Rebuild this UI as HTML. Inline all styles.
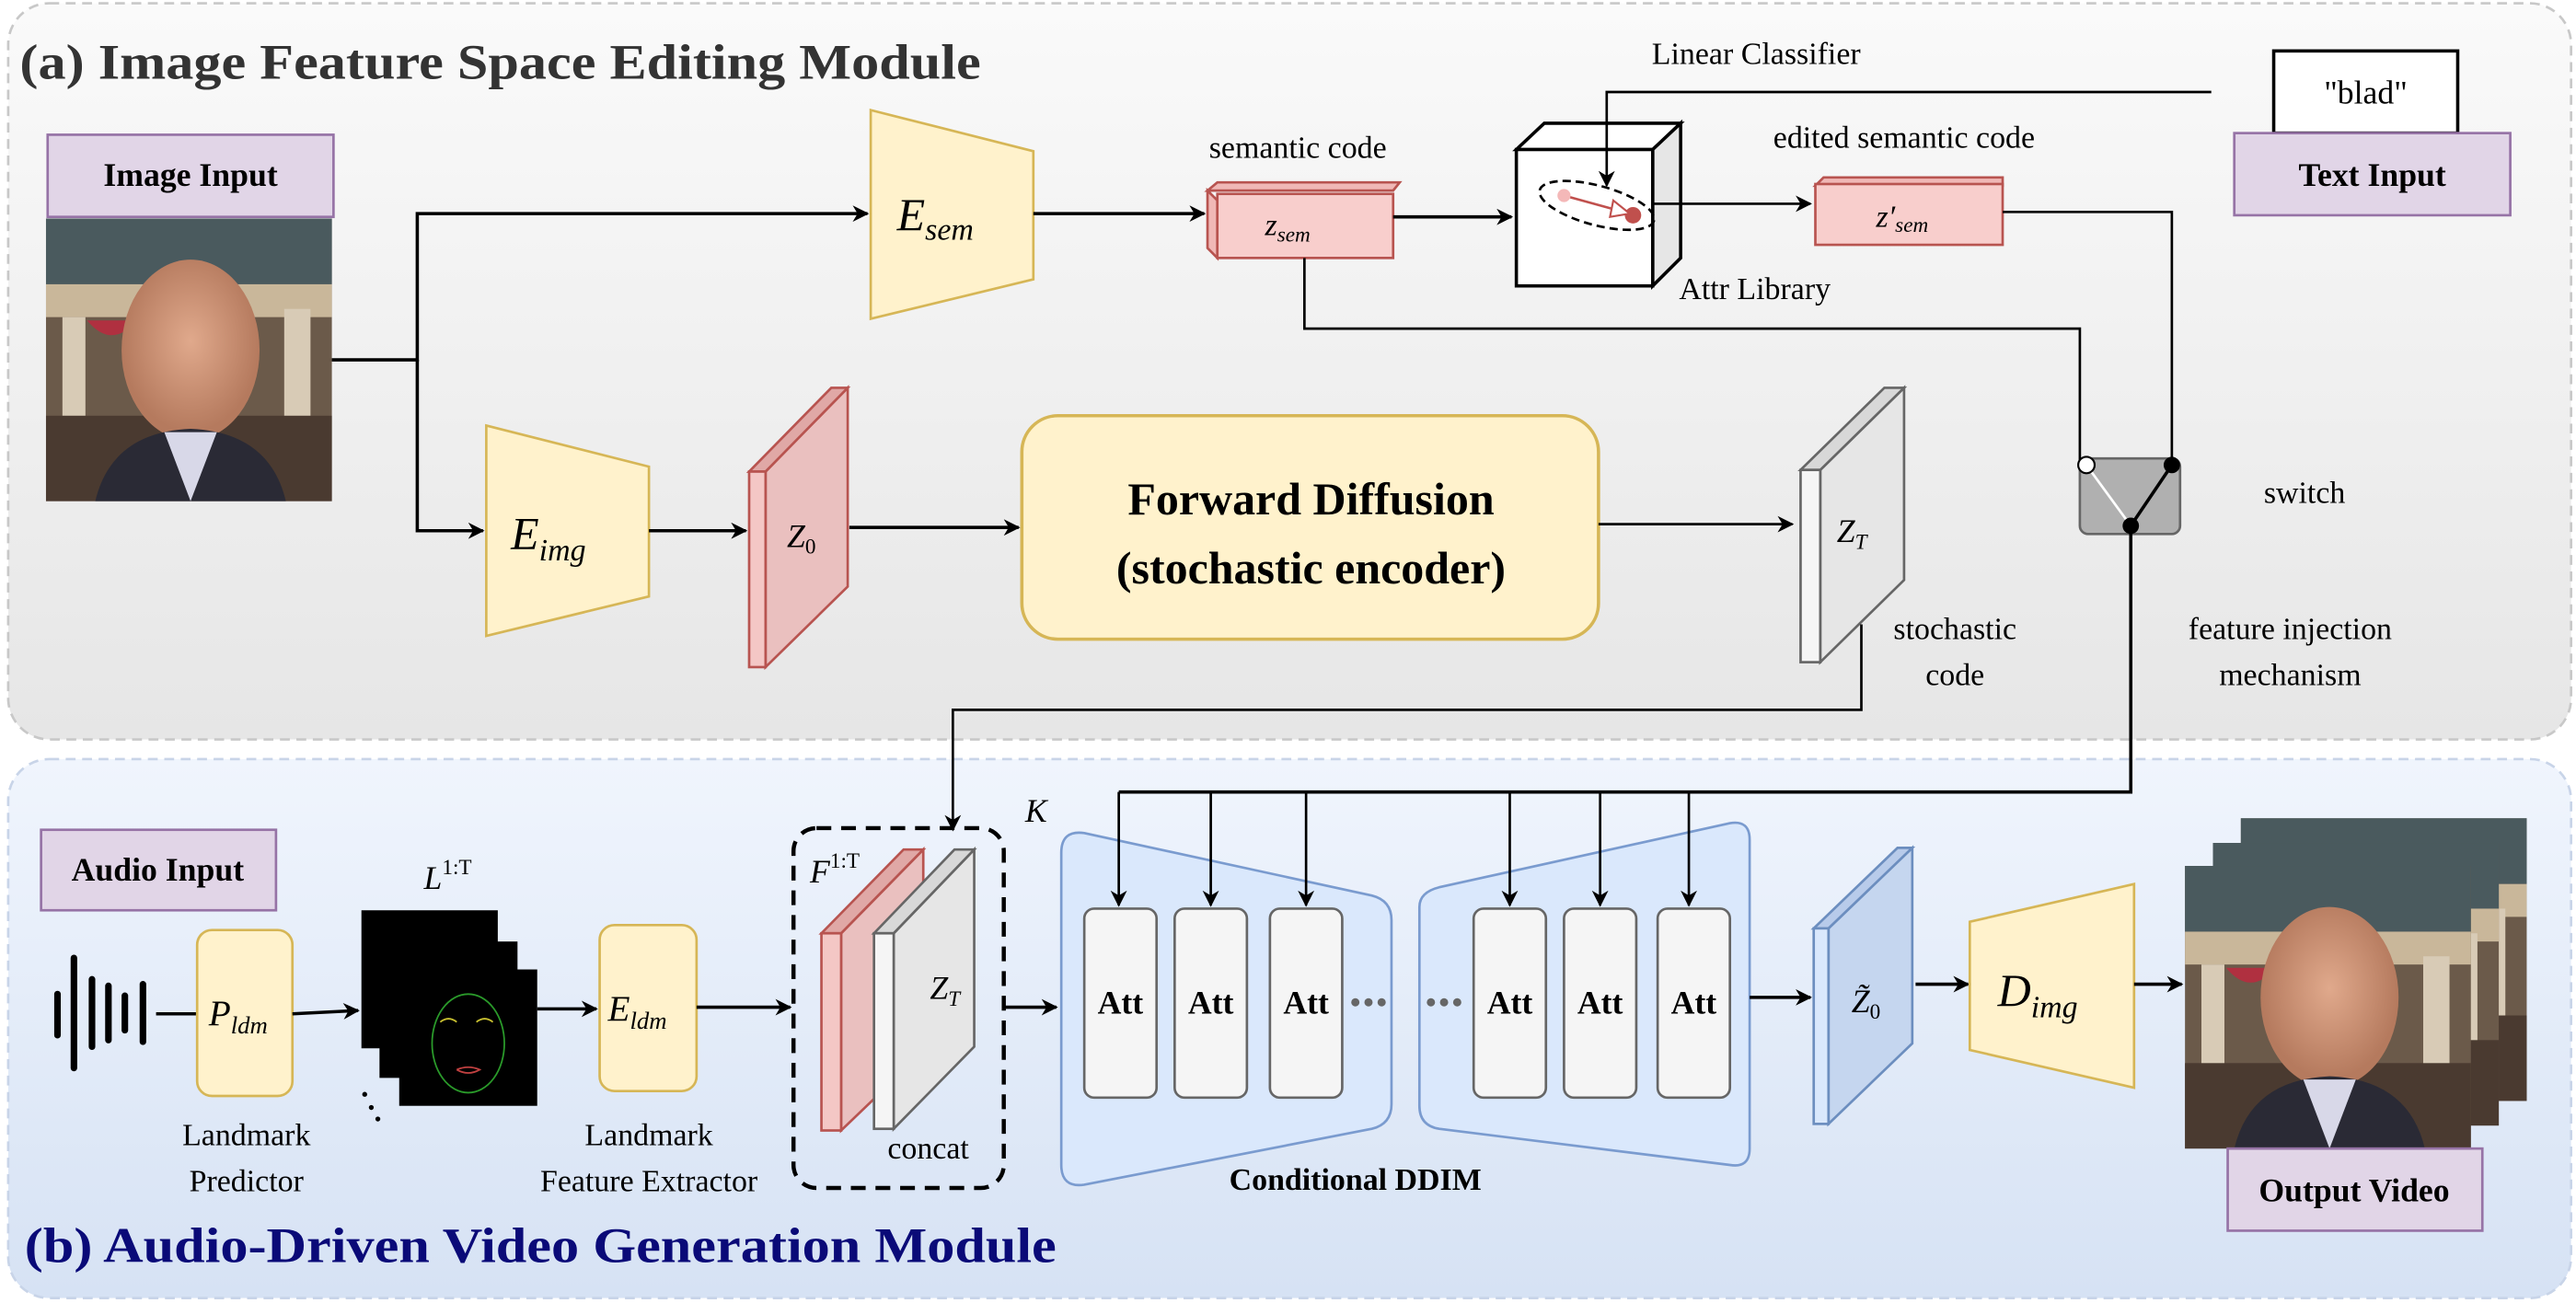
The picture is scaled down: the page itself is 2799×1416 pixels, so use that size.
<!DOCTYPE html>
<html><head><meta charset="utf-8"><style>
html,body{margin:0;padding:0;background:#fff}
svg{display:block}
text{font-family:"Liberation Serif","DejaVu Serif",serif}
</style></head><body>
<svg width="2799" height="1416" viewBox="0 0 1568 793" preserveAspectRatio="none" xmlns="http://www.w3.org/2000/svg">
<defs>
<linearGradient id="ga" x1="0" y1="0" x2="0" y2="1"><stop offset="0" stop-color="#fafafa"/><stop offset="1" stop-color="#e6e6e6"/></linearGradient>
<linearGradient id="gb" x1="0" y1="0" x2="0" y2="1"><stop offset="0" stop-color="#f0f5fd"/><stop offset="1" stop-color="#d6e2f4"/></linearGradient>
<marker id="ar" markerWidth="10" markerHeight="10" refX="9" refY="5" orient="auto" markerUnits="userSpaceOnUse"><path d="M0,0 L10,5 L0,10 L3,5 Z" fill="#000"/></marker>
<radialGradient id="face" cx="0.5" cy="0.45" r="0.5"><stop offset="0" stop-color="#e0a98c"/><stop offset="1" stop-color="#b57a5e"/></radialGradient>
<g id="photo">
<rect x="0" y="0" width="174" height="172" fill="#6b5a4a"/>
<rect x="0" y="0" width="174" height="40" fill="#4a5a5e"/>
<rect x="0" y="40" width="174" height="20" fill="#c9b79a"/>
<rect x="10" y="60" width="14" height="80" fill="#d8cbb6"/>
<rect x="145" y="55" width="16" height="85" fill="#d8cbb6"/>
<path d="M25,62 Q40,80 55,62 Z" fill="#b03040"/>
<rect x="0" y="120" width="174" height="52" fill="#4a3a30"/>
<ellipse cx="88" cy="80" rx="42" ry="55" fill="url(#face)"/>
<path d="M30,172 Q40,130 88,128 Q136,130 146,172 Z" fill="#2a2a35"/>
<path d="M72,130 L88,172 L104,130 Z" fill="#d8d8e8"/>
</g>
</defs>

<!-- panel a -->
<rect x="5" y="2" width="1560" height="448" rx="25" fill="url(#ga)" stroke="#c8c8c8" stroke-width="1.5" stroke-dasharray="6,4"/>
<!-- panel b -->
<rect x="5" y="462" width="1560" height="328" rx="25" fill="url(#gb)" stroke="#c8d4e8" stroke-width="1.5" stroke-dasharray="6,4"/>

<text x="12" y="48" font-size="30" font-weight="bold" fill="#333" textLength="585" lengthAdjust="spacingAndGlyphs">(a) Image Feature Space Editing Module</text>
<text x="15" y="768" font-size="30" font-weight="bold" fill="#0a0a78" textLength="628" lengthAdjust="spacingAndGlyphs">(b) Audio-Driven Video Generation Module</text>

<!-- Image input -->
<rect x="29" y="82" width="174" height="50" fill="#e1d5e7" stroke="#9673a6" stroke-width="1.5"/>
<text x="116" y="113" font-size="20" font-weight="bold" text-anchor="middle">Image Input</text>
<use href="#photo" x="28" y="133"/>

<!-- connectors top -->
<path d="M202,219 H254 V130 H528" fill="none" stroke="#000" stroke-width="2" marker-end="url(#ar)"/>
<path d="M254,219 V323 H294" fill="none" stroke="#000" stroke-width="2" marker-end="url(#ar)"/>

<!-- E_sem -->
<polygon points="530,67 629,92 629,170 530,194" fill="#fff2cc" stroke="#d6b656" stroke-width="1.5"/>
<text x="546" y="140" font-size="28" font-style="italic">E<tspan font-size="19" dy="6">sem</tspan></text>
<path d="M629,130 H733" stroke="#000" stroke-width="2" marker-end="url(#ar)"/>

<text x="790" y="96" font-size="19" text-anchor="middle">semantic code</text>
<!-- z_sem box -->
<polygon points="735,116 741,111 852,111 848,116" fill="#f0b8b6" stroke="#b85450" stroke-width="1.5"/>
<polygon points="735,116 741,122 741,157 735,151" fill="#f0b8b6" stroke="#b85450" stroke-width="1.5"/>
<rect x="741" y="118" width="107" height="39" fill="#f8cecc" stroke="#b85450" stroke-width="1.5"/>
<text x="770" y="143" font-size="19" font-style="italic">z<tspan font-size="13" dy="4">sem</tspan></text>
<path d="M848,132 H920" stroke="#000" stroke-width="2" marker-end="url(#ar)"/>

<!-- Attr cube -->
<polygon points="923,91 940,75 1023,75 1006,91" fill="#fff" stroke="#000" stroke-width="2"/>
<polygon points="1006,91 1023,75 1023,157 1006,174" fill="#e6e6e6" stroke="#000" stroke-width="2"/>
<rect x="923" y="91" width="83" height="83" fill="#fff" stroke="#000" stroke-width="2"/>
<ellipse cx="972" cy="125" rx="36" ry="12" transform="rotate(15 972 125)" fill="none" stroke="#000" stroke-width="1.5" stroke-dasharray="5,3"/>
<line x1="952" y1="119" x2="992" y2="130" stroke="#c0504d" stroke-width="1.5"/>
<circle cx="952" cy="119" r="4" fill="#f4b8b8"/>
<circle cx="994" cy="131" r="5" fill="#c0504d"/>
<polygon points="982,122 992,130 980,132" fill="#fff" stroke="#c0504d" stroke-width="1.2"/>
<text x="1022" y="182" font-size="19">Attr Library</text>
<text x="1069" y="39" font-size="19" text-anchor="middle">Linear Classifier</text>
<path d="M1346,56 H978 V113" fill="none" stroke="#000" stroke-width="1.5" marker-end="url(#ar)"/>
<path d="M1006,124 H1102" stroke="#000" stroke-width="1.5" marker-end="url(#ar)"/>

<text x="1159" y="90" font-size="19" text-anchor="middle">edited semantic code</text>
<polygon points="1105,113 1110,108 1219,108 1219,113" fill="#f0b8b6" stroke="#b85450" stroke-width="1.5"/>
<rect x="1105" y="112" width="114" height="37" fill="#f8cecc" stroke="#b85450" stroke-width="1.5"/>
<text x="1142" y="138" font-size="19" font-style="italic">z′<tspan font-size="13" dy="3">sem</tspan></text>
<path d="M1219,129 H1322 V282" fill="none" stroke="#000" stroke-width="1.5"/>
<path d="M794,157 V200 H1266 V282" fill="none" stroke="#000" stroke-width="1.5"/>

<!-- Text input -->
<rect x="1384" y="31" width="112" height="50" fill="#fff" stroke="#000" stroke-width="2"/>
<text x="1440" y="63" font-size="20" text-anchor="middle">"blad"</text>
<rect x="1360" y="81" width="168" height="50" fill="#e1d5e7" stroke="#9673a6" stroke-width="1.5"/>
<text x="1444" y="113" font-size="20" font-weight="bold" text-anchor="middle">Text Input</text>

<!-- switch -->
<rect x="1266" y="279" width="61" height="46" rx="5" fill="#b0b0b0" stroke="#666" stroke-width="1.5"/>
<line x1="1270" y1="283" x2="1297" y2="320" stroke="#fff" stroke-width="1.5"/>
<line x1="1322" y1="283" x2="1297" y2="320" stroke="#000" stroke-width="2"/>
<circle cx="1270" cy="283" r="5" fill="#fff" stroke="#000" stroke-width="1.2"/>
<circle cx="1322" cy="283" r="5" fill="#000"/>
<circle cx="1297" cy="320" r="5" fill="#000"/>
<text x="1378" y="306" font-size="19">switch</text>
<text x="1394" y="389" font-size="19" text-anchor="middle">feature injection</text>
<text x="1394" y="417" font-size="19" text-anchor="middle">mechanism</text>

<!-- E_img -->
<polygon points="296,259 395,284 395,363 296,387" fill="#fff2cc" stroke="#d6b656" stroke-width="1.5"/>
<text x="311" y="334" font-size="28" font-style="italic">E<tspan font-size="19" dy="7">img</tspan></text>
<path d="M395,323 H454" stroke="#000" stroke-width="2" marker-end="url(#ar)"/>
<!-- Z0 plate -->
<polygon points="466,287 516,236 516,357 466,406" fill="#eac0bf" stroke="#b85450" stroke-width="1.5"/>
<polygon points="456,287 466,287 516,236 506,236" fill="#e0a8a6" stroke="#b85450" stroke-width="1.5"/>
<rect x="456" y="287" width="10" height="119" fill="#f4c7c5" stroke="#b85450" stroke-width="1.5"/>
<text x="479" y="333" font-size="20" font-style="italic">Z<tspan font-size="13" dy="4" font-style="normal">0</tspan></text>
<path d="M517,321 H620" stroke="#000" stroke-width="2" marker-end="url(#ar)"/>

<!-- Forward diffusion -->
<rect x="622" y="253" width="351" height="136" rx="22" fill="#fff2cc" stroke="#d6b656" stroke-width="2"/>
<text x="798" y="313" font-size="28" font-weight="bold" text-anchor="middle">Forward Diffusion</text>
<text x="798" y="355" font-size="28" font-weight="bold" text-anchor="middle">(stochastic encoder)</text>
<path d="M973,319 H1091" stroke="#000" stroke-width="1.5" marker-end="url(#ar)"/>

<!-- Z_T plate -->
<polygon points="1108,286 1159,236 1159,353 1108,403" fill="#e6e6e6" stroke="#666" stroke-width="1.5"/>
<polygon points="1096,286 1108,286 1159,236 1147,236" fill="#d8d8d8" stroke="#666" stroke-width="1.5"/>
<rect x="1096" y="286" width="12" height="117" fill="#f5f5f5" stroke="#666" stroke-width="1.5"/>
<text x="1118" y="330" font-size="20" font-style="italic">Z<tspan font-size="13" dy="4">T</tspan></text>
<text x="1190" y="389" font-size="19" text-anchor="middle">stochastic</text>
<text x="1190" y="417" font-size="19" text-anchor="middle">code</text>
<path d="M1133,380 V432 H580 V505" fill="none" stroke="#000" stroke-width="1.5" marker-end="url(#ar)"/>

<!-- Audio -->
<rect x="25" y="505" width="143" height="49" fill="#e1d5e7" stroke="#9673a6" stroke-width="1.5"/>
<text x="96" y="536" font-size="20" font-weight="bold" text-anchor="middle">Audio Input</text>
<g stroke="#000" stroke-width="4" stroke-linecap="round">
<line x1="35" y1="605" x2="35" y2="630"/><line x1="45" y1="583" x2="45" y2="650"/><line x1="56" y1="596" x2="56" y2="637"/><line x1="66" y1="600" x2="66" y2="633"/><line x1="76" y1="606" x2="76" y2="627"/><line x1="87" y1="599" x2="87" y2="634"/>
</g>
<line x1="95" y1="617" x2="120" y2="617" stroke="#000" stroke-width="2"/>
<rect x="120" y="566" width="58" height="101" rx="9" fill="#fff2cc" stroke="#d6b656" stroke-width="1.5"/>
<text x="127" y="624" font-size="22" font-style="italic">P<tspan font-size="15" dy="5">ldm</tspan></text>
<path d="M178,617 L218,615" stroke="#000" stroke-width="2" marker-end="url(#ar)"/>
<text x="150" y="697" font-size="19" text-anchor="middle">Landmark</text>
<text x="150" y="725" font-size="19" text-anchor="middle">Predictor</text>
<text x="258" y="541" font-size="20" font-style="italic">L<tspan font-size="13" dy="-9" font-style="normal">1:T</tspan></text>
<rect x="220" y="554" width="83" height="84" fill="#000"/>
<rect x="231" y="573" width="84" height="83" fill="#000"/>
<rect x="243" y="590" width="84" height="83" fill="#000"/>
<ellipse cx="285" cy="635" rx="22" ry="30" fill="none" stroke="#2a9a2a" stroke-width="1"/>
<path d="M268,622 q5,-4 10,0 M290,622 q5,-4 10,0" stroke="#c8c030" fill="none" stroke-width="1"/>
<path d="M278,651 q7,-3 14,0 q-7,4 -14,0" stroke="#c04040" fill="none" stroke-width="1"/>
<circle cx="222" cy="666" r="1.5" fill="#000"/><circle cx="226" cy="674" r="1.5" fill="#000"/><circle cx="230" cy="681" r="1.5" fill="#000"/>
<path d="M327,614 H363" stroke="#000" stroke-width="2" marker-end="url(#ar)"/>
<rect x="365" y="563" width="59" height="101" rx="9" fill="#fff2cc" stroke="#d6b656" stroke-width="1.5"/>
<text x="370" y="621" font-size="22" font-style="italic">E<tspan font-size="15" dy="5">ldm</tspan></text>
<text x="395" y="697" font-size="19" text-anchor="middle">Landmark</text>
<text x="395" y="725" font-size="19" text-anchor="middle">Feature Extractor</text>
<path d="M424,613 H481" stroke="#000" stroke-width="2" marker-end="url(#ar)"/>

<!-- concat box -->
<rect x="483" y="504" width="128" height="219" rx="14" fill="none" stroke="#000" stroke-width="2.5" stroke-dasharray="9,6"/>
<text x="493" y="537" font-size="20" font-style="italic">F<tspan font-size="13" dy="-9" font-style="normal">1:T</tspan></text>
<polygon points="512,568 562,517 562,640 512,688" fill="#eac0bf" stroke="#b85450" stroke-width="1.5"/>
<polygon points="500,568 512,568 562,517 550,517" fill="#e0a8a6" stroke="#b85450" stroke-width="1.5"/>
<rect x="500" y="568" width="12" height="120" fill="#f4c7c5" stroke="#b85450" stroke-width="1.5"/>
<polygon points="544,568 593,517 593,637 544,687" fill="#e6e6e6" stroke="#666" stroke-width="1.5"/>
<polygon points="532,568 544,568 593,517 581,517" fill="#d8d8d8" stroke="#666" stroke-width="1.5"/>
<rect x="532" y="568" width="12" height="119" fill="#f5f5f5" stroke="#666" stroke-width="1.5"/>
<text x="566" y="608" font-size="20" font-style="italic">Z<tspan font-size="13" dy="4">T</tspan></text>
<text x="565" y="705" font-size="19" text-anchor="middle">concat</text>
<text x="624" y="500" font-size="20" font-style="italic">K</text>
<path d="M611,613 H643" stroke="#000" stroke-width="2" marker-end="url(#ar)"/>

<!-- DDIM -->
<path d="M660,507 L835,545 Q847,548 847,560 V672 Q847,684 835,687 L660,721 Q646,723 646,709 V519 Q646,505 660,507 Z" fill="#dae8fc" stroke="#7a9bcf" stroke-width="1.5"/>
<path d="M876,540 L1053,501 Q1065,499 1065,511 V699 Q1065,711 1053,709 L876,687 Q864,685 864,673 V552 Q864,543 876,540 Z" fill="#dae8fc" stroke="#7a9bcf" stroke-width="1.5"/>
<g fill="#f5f5f5" stroke="#666" stroke-width="1.5">
<rect x="660" y="553" width="44" height="115" rx="6"/><rect x="715" y="553" width="44" height="115" rx="6"/><rect x="773" y="553" width="44" height="115" rx="6"/>
<rect x="897" y="553" width="44" height="115" rx="6"/><rect x="952" y="553" width="44" height="115" rx="6"/><rect x="1009" y="553" width="44" height="115" rx="6"/>
</g>
<g font-size="20" font-weight="bold" text-anchor="middle">
<text x="682" y="617">Att</text><text x="737" y="617">Att</text><text x="795" y="617">Att</text>
<text x="919" y="617">Att</text><text x="974" y="617">Att</text><text x="1031" y="617">Att</text>
</g>
<g fill="#666"><circle cx="825" cy="610" r="2.5"/><circle cx="833" cy="610" r="2.5"/><circle cx="841" cy="610" r="2.5"/>
<circle cx="871" cy="610" r="2.5"/><circle cx="879" cy="610" r="2.5"/><circle cx="887" cy="610" r="2.5"/></g>
<text x="825" y="724" font-size="19" font-weight="bold" text-anchor="middle">Conditional DDIM</text>

<path d="M1297,320 V482 H681" fill="none" stroke="#000" stroke-width="2"/>
<g stroke="#000" stroke-width="1.5" marker-end="url(#ar)">
<line x1="681" y1="482" x2="681" y2="551"/><line x1="737" y1="482" x2="737" y2="551"/><line x1="795" y1="482" x2="795" y2="551"/>
<line x1="919" y1="482" x2="919" y2="551"/><line x1="974" y1="482" x2="974" y2="551"/><line x1="1028" y1="482" x2="1028" y2="551"/>
</g>
<path d="M1065,607 H1102" stroke="#000" stroke-width="2" marker-end="url(#ar)"/>

<!-- Z0 tilde -->
<polygon points="1113,565 1164,516 1164,635 1113,684" fill="#c5d6ef" stroke="#6c8ebf" stroke-width="1.5"/>
<polygon points="1104,565 1113,565 1164,516 1155,516" fill="#b8cbea" stroke="#6c8ebf" stroke-width="1.5"/>
<rect x="1104" y="565" width="9" height="119" fill="#dae8fc" stroke="#6c8ebf" stroke-width="1.5"/>
<text x="1127" y="616" font-size="20" font-style="italic">Z̃<tspan font-size="13" dy="4" font-style="normal">0</tspan></text>
<path d="M1166,599 H1198" stroke="#000" stroke-width="2" marker-end="url(#ar)"/>
<polygon points="1199,561 1299,538 1299,662 1199,639" fill="#fff2cc" stroke="#d6b656" stroke-width="1.5"/>
<text x="1216" y="612" font-size="28" font-style="italic">D<tspan font-size="19" dy="7">img</tspan></text>
<path d="M1299,599 H1328" stroke="#000" stroke-width="2" marker-end="url(#ar)"/>

<!-- output video -->
<use href="#photo" x="1364" y="498"/>
<use href="#photo" x="1347" y="513"/>
<use href="#photo" x="1330" y="527"/>
<rect x="1356" y="699" width="155" height="50" fill="#e1d5e7" stroke="#9673a6" stroke-width="1.5"/>
<text x="1433" y="731" font-size="20" font-weight="bold" text-anchor="middle">Output Video</text>
</svg>
</body></html>
